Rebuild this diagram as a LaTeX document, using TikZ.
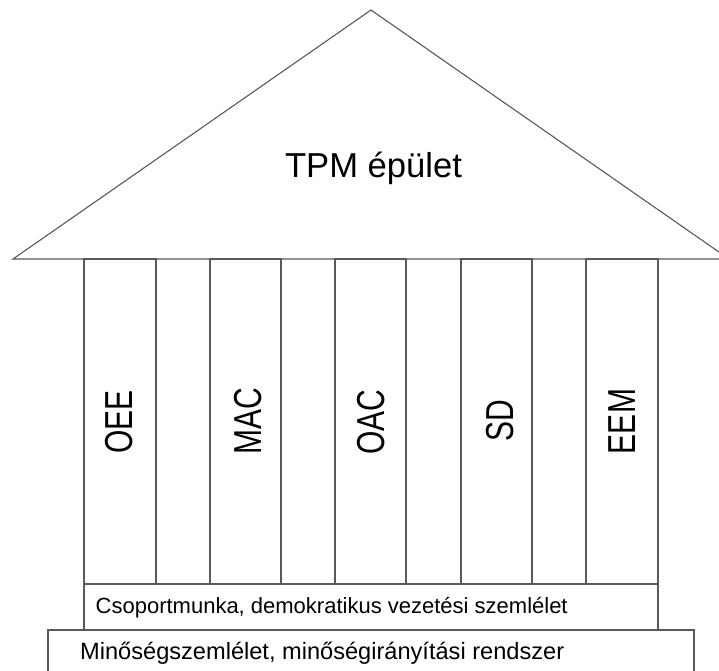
\documentclass[tikz,border=0pt]{standalone}
\usepackage{fontspec}
\setmainfont{Liberation Sans}
\begin{document}
\begin{tikzpicture}[x=1pt, y=-1pt,
  outline/.style={draw=black!65, line width=1.1pt},
  title/.style={inner sep=0pt, font=\fontsize{34.6}{40}\selectfont},
  pillarlabel/.style={inner sep=0pt, rotate=90},
  baselabel/.style={inner sep=0pt, anchor=base west},
]
\useasboundingbox (0,0) rectangle (719,670);

% bottom slab and the band above it
\draw[outline] (48,630) rectangle (694,690);
\draw[outline] (84,584) rectangle (658,630);

% pillars
\foreach \l/\r in {84/156, 210/281, 335/406, 461/532, 586/658}
  \draw[outline] (\l,259) rectangle (\r,584);

% roof
\draw[outline, line join=miter] (13,259) -- (371,10) -- (729,259) -- cycle;

% texts
\node[title, anchor=base] (roof) at (373.5,177) {TPM épület};

\newcommand{\pillartext}[1]{\scalebox{1}[1.3]{\fontsize{30}{30}\selectfont #1}}
\node[pillarlabel] (oee) at (119,422)   {\pillartext{OEE}};
\node[pillarlabel] (mac) at (248,421.5) {\pillartext{MAC}};
\node[pillarlabel] (oac) at (371.5,422) {\pillartext{OAC}};
\node[pillarlabel] (sd)  at (500,421)   {\pillartext{SD}};
\node[pillarlabel] (eem) at (622,421.5) {\pillartext{EEM}};

\node[baselabel, font=\fontsize{22}{26}\selectfont] (team) at (95.5,613)
  {Csoportmunka, demokratikus vezetési szemlélet};
\node[baselabel, font=\fontsize{23.6}{28}\selectfont] (quality) at (80,659)
  {Minőségszemlélet, minőségirányítási rendszer};
\end{tikzpicture}
\end{document}
